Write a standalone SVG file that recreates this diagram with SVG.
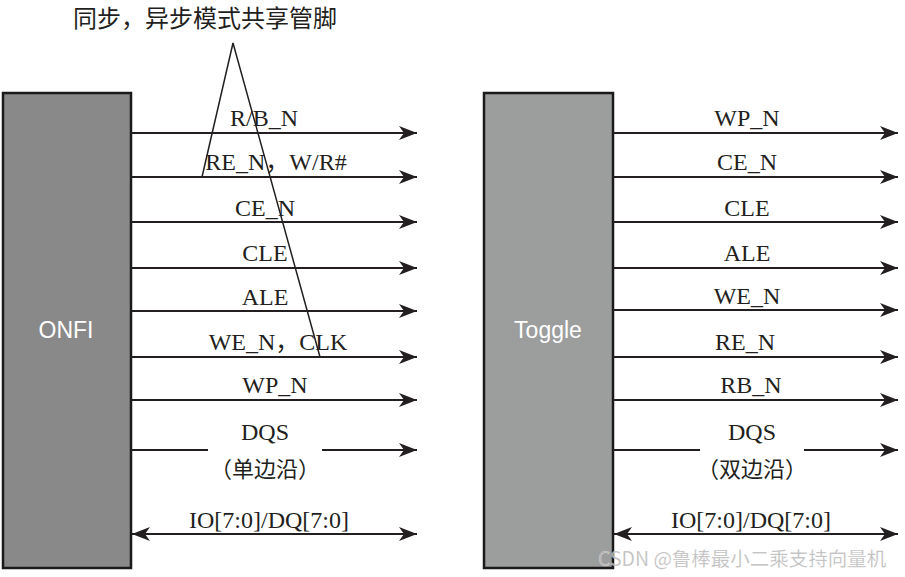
<svg xmlns="http://www.w3.org/2000/svg" width="905" height="577" viewBox="0 0 905 577">
<style>
.lbl{font-family:"Liberation Serif","Noto Sans CJK SC",serif;font-size:24px;fill:#231f20;text-anchor:middle}
.cjk{font-family:"Noto Sans CJK SC",serif;font-size:22px;fill:#231f20;text-anchor:middle}
.box{stroke:#1a1a1a;stroke-width:2.5}
.sig{stroke:#231f20;stroke-width:2;fill:none;marker-end:url(#ah)}
.bi{marker-start:url(#ah)}
.tri{stroke:#231f20;stroke-width:1.5;fill:none}
.name{font-family:"Liberation Sans",Arial,sans-serif;font-size:23px;fill:#ffffff;text-anchor:middle}
</style>
<defs>
<marker id="ah" markerUnits="userSpaceOnUse" viewBox="0 0 18 14" refX="18" refY="7" markerWidth="18" markerHeight="14" orient="auto-start-reverse">
<path d="M0,0 L18,7 L0,14 L5,7 z" fill="#231f20"/>
</marker>
</defs>
<rect width="905" height="577" fill="#ffffff"/>
<text x="205" y="27" class="cjk" style="font-size:24px">同步，异步模式共享管脚</text>
<g id="onfi">
<rect class="box" x="3" y="93" width="128" height="475" fill="#898989"/>
<text class="name" x="66" y="338">ONFI</text>
</g>
<g id="toggle">
<rect class="box" x="484" y="93" width="129" height="475" fill="#9c9d9d"/>
<text class="name" x="548" y="338">Toggle</text>
</g>
<g id="connectors">
<line class="sig" x1="131" y1="133" x2="417" y2="133"/>
<line class="sig" x1="131" y1="177" x2="417" y2="177"/>
<line class="sig" x1="131" y1="222" x2="417" y2="222"/>
<line class="sig" x1="131" y1="268" x2="417" y2="268"/>
<line class="sig" x1="131" y1="311" x2="417" y2="311"/>
<line class="sig" x1="131" y1="357" x2="417" y2="357"/>
<line class="sig" x1="131" y1="400" x2="417" y2="400"/>
<line stroke="#231f20" stroke-width="2" x1="131" y1="450" x2="208" y2="450"/>
<line class="sig" x1="322" y1="450" x2="417" y2="450"/>
<line class="sig bi" x1="132" y1="534" x2="417" y2="534"/>
<line class="sig" x1="613" y1="133" x2="898" y2="133"/>
<line class="sig" x1="613" y1="177" x2="898" y2="177"/>
<line class="sig" x1="613" y1="222" x2="898" y2="222"/>
<line class="sig" x1="613" y1="268" x2="898" y2="268"/>
<line class="sig" x1="613" y1="310" x2="898" y2="310"/>
<line class="sig" x1="613" y1="357" x2="898" y2="357"/>
<line class="sig" x1="613" y1="400" x2="898" y2="400"/>
<line stroke="#231f20" stroke-width="2" x1="613" y1="450" x2="700" y2="450"/>
<line class="sig" x1="804" y1="450" x2="898" y2="450"/>
<line class="sig bi" x1="614" y1="534" x2="898" y2="534"/>
<polyline class="tri" points="202,177 233,43 320,357"/>
</g>
<g id="onfi-labels">
<text class="lbl" x="264" y="126">R/B_N</text>
<text class="lbl" x="276" y="170">RE_N，W/R#</text>
<text class="lbl" x="265" y="216">CE_N</text>
<text class="lbl" x="265" y="261">CLE</text>
<text class="lbl" x="265" y="305">ALE</text>
<text class="lbl" x="278" y="350">WE_N，CLK</text>
<text class="lbl" x="275" y="393">WP_N</text>
<text class="lbl" x="265" y="440">DQS</text>
<text class="cjk" x="265" y="477">（单边沿）</text>
<text class="lbl" x="269" y="528">IO[7:0]/DQ[7:0]</text>
</g>
<g id="toggle-labels">
<text class="lbl" x="747" y="126">WP_N</text>
<text class="lbl" x="747" y="170">CE_N</text>
<text class="lbl" x="747" y="216">CLE</text>
<text class="lbl" x="747" y="261">ALE</text>
<text class="lbl" x="747" y="304">WE_N</text>
<text class="lbl" x="745" y="350">RE_N</text>
<text class="lbl" x="751" y="393">RB_N</text>
<text class="lbl" x="752" y="440">DQS</text>
<text class="cjk" x="752" y="477">（双边沿）</text>
<text class="lbl" x="751" y="528">IO[7:0]/DQ[7:0]</text>
</g>
<text x="598" y="566" style="font-family:'Noto Sans CJK SC',sans-serif;font-size:19.5px;fill:#b4b4b4;fill-opacity:0.9;stroke:#ffffff;stroke-opacity:0.4;stroke-width:0.6">CSDN @鲁棒最小二乘支持向量机</text>
</svg>
